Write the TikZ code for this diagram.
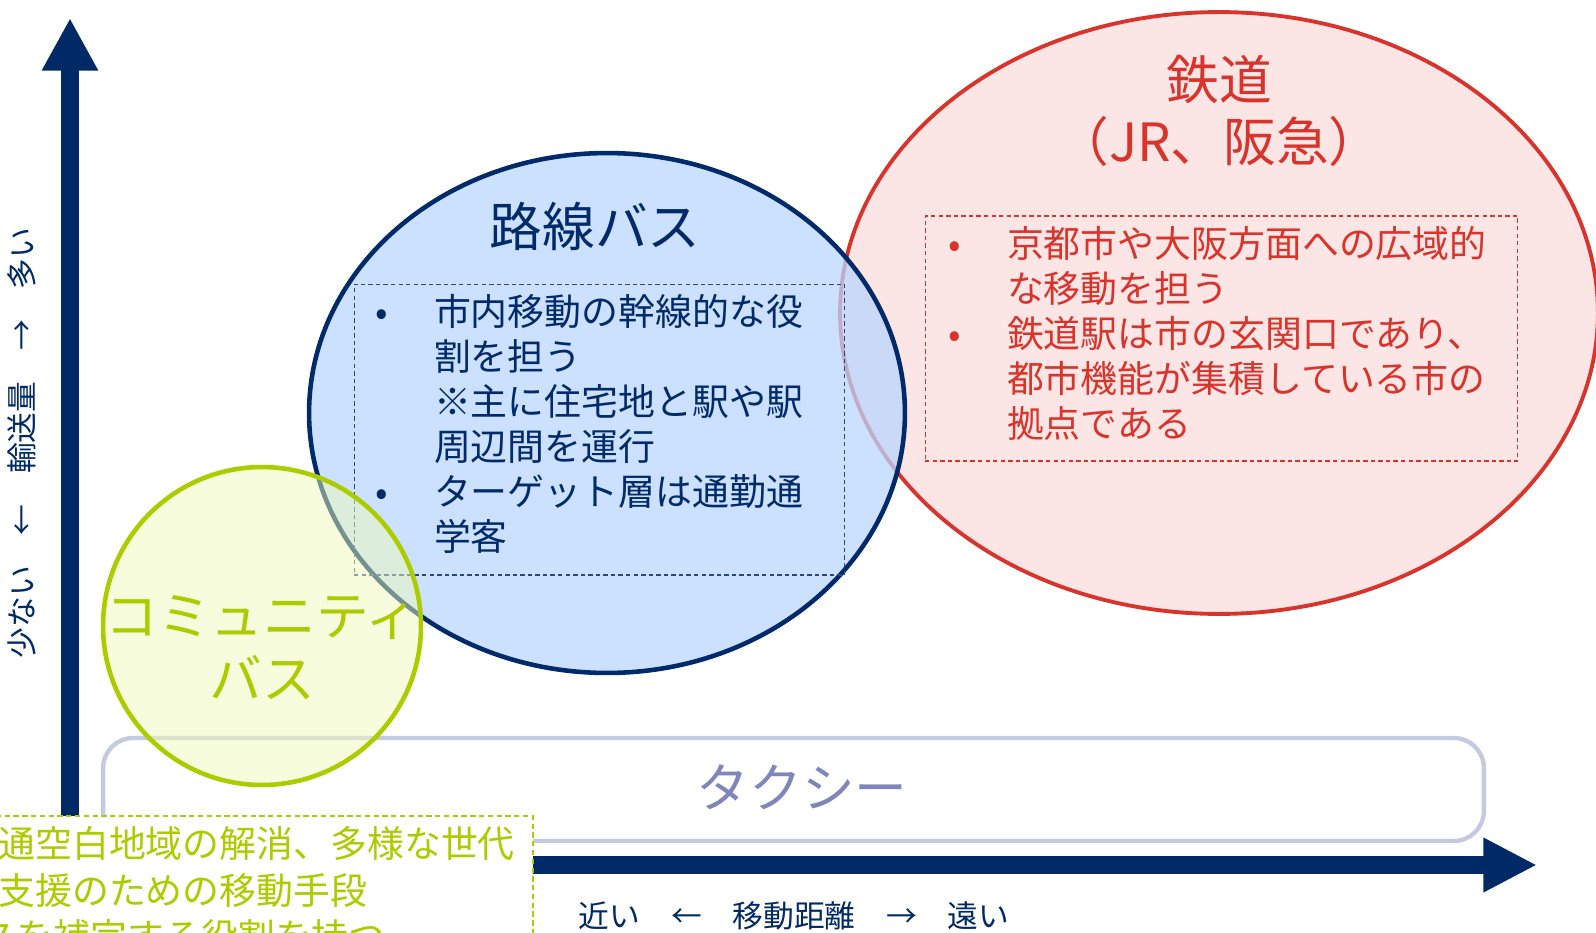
\documentclass[tikz,border=0pt]{standalone}
\usepackage{fontspec}
\usepackage{tikz}
\usetikzlibrary{shapes.geometric, arrows.meta, positioning}

\newfontfamily\jpfont{Noto Sans CJK JP}

\definecolor{axisblue}{RGB}{0,42,102}
\definecolor{railred}{RGB}{217,52,43}
\definecolor{railpink}{RGB}{251,229,229}
\definecolor{busnavy}{RGB}{0,42,106}
\definecolor{busblue}{RGB}{187,214,255}
\definecolor{taxigrey}{RGB}{197,202,224}
\definecolor{taxitext}{RGB}{128,134,186}
\definecolor{commgreen}{RGB}{172,204,0}
\definecolor{commfill}{RGB}{239,249,185}

\newcommand{\bulletmark}{\makebox[33.4pt][l]{•}}
\newcommand{\bulletskip}{\hspace*{33.4pt}}

\begin{document}
\begin{tikzpicture}[x=0.02cm, y=-0.02cm]

    \useasboundingbox (0,0) rectangle (1596,933);

    % Styles
    \tikzstyle{oval node} = [ellipse, inner sep=0pt];
    \tikzstyle{note box} = [rectangle, inner sep=0pt, line width=0.6pt, dash pattern=on 2.5pt off 1.8pt];
    \tikzstyle{note text} = [inner sep=0pt, align=left, font=\jpfont\fontsize{21pt}{25.6pt}\selectfont];
    \tikzstyle{title text} = [inner sep=0pt, align=center, font=\jpfont\fontsize{30pt}{35.7pt}\selectfont];
    \tikzstyle{axis label} = [inner sep=0pt, text=axisblue, font=\jpfont\fontsize{17.5pt}{20pt}\selectfont];
    \tikzstyle{axis arrow} = [draw=axisblue, line width=10.5pt];

    % Rail
    \node[oval node, draw=railred, fill=railpink, line width=2.2pt,
          minimum width=15.16cm, minimum height=12.04cm] (rail) at (1219,313) {};
    \node[note box, draw=railred, minimum width=11.86cm, minimum height=4.9cm] (railbox) at (1221.5,338.5) {};
    \node[title text, text=railred] (railtitle) at (1219,111) {鉄道\\（JR、阪急）};
    \node[note text, text=railred, anchor=west] (railnote) at (948,333)
        {\bulletmark 京都市や大阪方面への広域的\\
         \bulletskip な移動を担う\\
         \bulletmark 鉄道駅は市の玄関口であり、\\
         \bulletskip 都市機能が集積している市の\\
         \bulletskip 拠点である};

    % Route bus
    \node[oval node, draw=busnavy, fill=busblue, fill opacity=0.75, line width=2.6pt,
          minimum width=11.92cm, minimum height=10.4cm] (bus) at (607,413) {};
    \node[note box, draw=busnavy!85] (busbox) at (599.5,429.5) [minimum width=9.82cm, minimum height=5.82cm] {};
    \node[title text, text=busnavy] (bustitle) at (595,226) {路線バス};
    \node[note text, text=busnavy, anchor=west] (busnote) at (375,423.5)
        {\bulletmark 市内移動の幹線的な役\\
         \bulletskip 割を担う\\
         \bulletskip ※主に住宅地と駅や駅\\
         \bulletskip 周辺間を運行\\
         \bulletmark ターゲット層は通勤通\\
         \bulletskip 学客};

    % Taxi
    \node[rectangle, rounded corners=0.6cm, draw=taxigrey, line width=2.5pt,
          minimum width=27.62cm, minimum height=2.06cm] (taxi) at (793.5,789.5) {};
    \node[title text, text=taxitext] (taxilabel) at (802,787) {タクシー};

    % Community bus
    \node[circle, draw=commgreen, fill=commfill, fill opacity=0.5, line width=2.6pt,
          minimum size=6.36cm, inner sep=0pt] (community) at (262,626) {};
    \node[title text, text=commgreen] (commtitle) at (262,648) {コミュニティ\\バス};

    % Axes
    \coordinate (origin) at (70,865);
    \coordinate (ytip) at (70,18);
    \coordinate (xtip) at (1537,865);
    \draw[axis arrow, -{Triangle[length=30pt, width=30pt]}] (origin) -- (ytip);
    \draw[axis arrow, -{Triangle[length=30.6pt, width=29pt]}] (origin) -- (xtip);

    \node[axis label] (xlabel) at (794,916) {近い　←　移動距離　→　遠い};
    \node[axis label, rotate=90] (ylabel) at (22,443) {少ない　←　輸送量　→　多い};

    % Community bus note
    \node[rectangle, draw=commgreen, fill=white, line width=0.8pt, dash pattern=on 3pt off 2pt,
          minimum width=10.86cm, minimum height=3.28cm] (commbox) at (261.5,898) {};
    \node[note text, text=commgreen, anchor=west,
          font=\jpfont\fontsize{21pt}{26.5pt}\selectfont] (commnote) at (-2,890)
        {通空白地域の解消、多様な世代\\
         支援のための移動手段\\
         \hspace*{-0.5em}スを補完する役割を持つ};

\end{tikzpicture}
\end{document}
